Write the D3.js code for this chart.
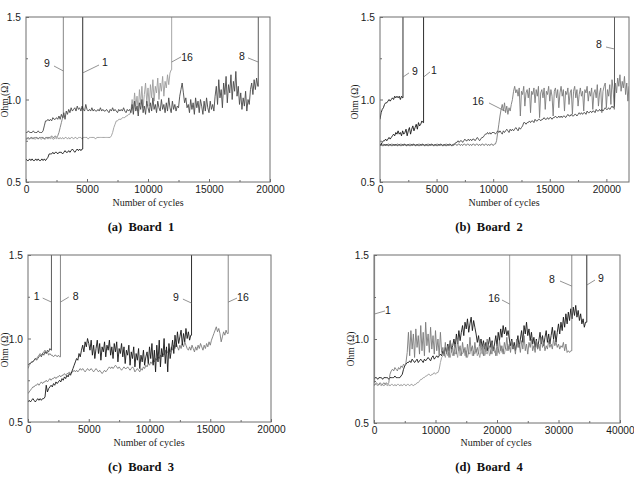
<!DOCTYPE html>
<html>
<head>
<meta charset="utf-8">
<script src="https://cdn.jsdelivr.net/npm/d3@7"></script>
<style>
  body { margin: 0; background: #fff; }
  svg { display: block; }
</style>
</head>
<body>
<script>
// resistance (ohm) read every `step` cycles; failure = jump to open circuit
const ohmTicks = [0.5, 1.0, 1.5];
const ohmMinor = [0.75, 1.25];
const cycleTicks20k = [0, 5000, 10000, 15000, 20000];
const cycleMinor20k = [2500, 7500, 12500, 17500];
const cycleTicks40k = [0, 10000, 20000, 30000, 40000];
const cycleMinor40k = [5000, 15000, 25000, 35000];
const captions = ["(a)  Board  1", "(b)  Board  2", "(c)  Board  3", "(d)  Board  4"];

// board 1, step 100
const b1s1 = [0.64,0.63,0.63,0.64,0.63,0.64,0.63,0.63,0.64,0.63,0.64,0.63,0.63,0.64,0.63,0.64,0.63,0.64,
  0.65,0.67,0.67,
  0.67,0.68,0.67,0.68,0.68,0.67,0.68,0.68,0.68,0.67,0.68,0.69,0.68,0.68,
  0.69,0.68,0.69,0.70,0.69,0.68,0.69,0.70,0.69,0.70,0.69,0.70];
const b1s9 = [0.76,0.76,0.77,0.76,0.77,0.77,0.76,0.77,0.77,0.77,0.76,0.77,0.77,0.77,0.77,0.76,0.77,0.77,0.77,0.77,
  0.77,0.78,0.77,0.77,0.78,0.77,0.78,0.80,0.83,0.86,0.89];
const b1s16 = [0.76,0.77,0.76,0.76,0.77,0.76,0.77,0.76,0.76,0.77,0.76,0.77,0.76,0.76,0.77,0.76,0.76,0.77,0.76,0.77,
  0.76,0.77,0.76,0.76,0.77,0.76,0.77,0.76,0.77,0.76,0.77,0.76,0.77,0.77,0.76,0.77,0.76,0.77,0.77,0.76,
  0.77,0.77,0.76,0.77,0.77,0.77,0.76,0.77,0.77,0.77,0.77,0.76,0.77,0.77,0.77,0.77,0.77,0.76,0.77,0.77,
  0.77,0.77,0.77,0.77,0.77,0.77,0.77,0.77,0.77,0.77,
  0.78,0.80,0.83,0.85,0.87,0.87,0.88,0.88,
  0.88,0.89,0.89,0.89,0.90,0.90,0.91,0.91,
  0.93,1.00,0.94,1.04,0.96,1.02,0.93,1.06,0.97,1.08,0.95,1.03,1.10,0.98,1.07,0.96,1.09,1.01,1.12,0.99,
  1.08,1.04,1.13,1.00,1.10,1.05,1.14,1.02,1.11,1.07,1.15,1.09,1.16,1.18];
const b1s8 = [0.80,0.80,0.81,0.80,0.80,0.80,0.81,0.80,0.80,0.80,0.81,0.80,0.80,0.80,0.81,
  0.84,0.87,
  0.87,0.88,0.87,0.88,0.87,0.89,0.88,0.88,0.89,0.88,0.90,0.88,0.91,0.89,
  0.92,0.88,0.93,0.91,0.94,0.92,0.95,0.93,0.94,0.95,0.93,0.96,0.94,0.95,0.93,0.96,
  0.94,0.93,0.97,0.94,0.93,0.94,0.93,0.95,0.93,0.94,0.93,0.93,0.94,0.93,0.95,0.93,0.94,0.93,0.93,0.94,
  0.93,0.92,0.94,0.93,0.95,0.93,0.94,0.93,0.92,0.94,0.93,0.94,0.93,0.95,0.93,0.92,0.94,0.93,0.94,
  0.92,0.97,0.91,0.99,0.93,0.96,0.90,0.98,0.94,1.00,0.92,0.96,0.91,0.99,0.95,0.92,0.98,0.93,1.01,0.94,
  0.97,0.92,0.99,0.95,0.93,1.00,0.94,0.97,0.92,0.98,0.93,1.01,0.95,0.92,0.99,0.94,0.97,0.93,0.96,
  0.95,1.02,1.06,1.10,1.04,0.98,1.01,0.95,
  0.97,0.92,1.00,0.94,0.98,0.91,1.01,0.95,0.99,0.92,1.00,0.96,0.91,0.99,0.93,1.01,0.95,0.92,0.99,0.94,0.97,0.93,
  1.02,1.08,0.97,1.12,1.01,1.06,0.95,1.10,1.03,1.14,0.98,1.09,1.04,1.15,1.00,1.11,1.05,1.17,1.02,1.08,
  0.97,1.04,0.94,1.01,0.96,1.05,0.93,1.00,0.97,1.06,1.10,1.03,1.12,1.06,1.13,1.08];
const b1Fail = { "1": 4650, "9": 3060, "16": 11940, "8": 19040 };

// board 2, step 100
const b2s9 = [0.88,0.92,0.94,0.95,0.97,0.98,0.98,0.99,1.00,0.99,1.00,1.01,1.00,1.02,1.01,1.02,1.01,1.02,1.00,1.02,1.01];
const b2s1 = [0.72,0.73,0.74,0.75,0.75,0.76,0.75,0.76,0.77,0.76,0.77,0.78,0.79,0.78,0.80,0.79,0.81,0.79,0.80,0.78,
  0.81,0.79,0.80,0.82,0.78,0.81,0.83,0.79,0.82,0.84,0.81,0.83,0.85,0.82,0.86,0.84,0.85,0.87,0.86];
const b2s16 = [0.73,0.72,0.73,0.73,0.72,0.73,0.72,0.73,0.73,0.72,0.73,0.73,0.72,0.73,0.72,0.73,0.73,0.72,0.73,0.73,
  0.72,0.73,0.73,0.72,0.73,0.72,0.73,0.73,0.72,0.73,0.73,0.72,0.73,0.72,0.73,0.73,0.72,0.73,0.73,0.72,
  0.73,0.72,0.73,0.73,0.72,0.73,0.73,0.72,0.73,0.72,0.73,0.73,0.72,0.73,0.73,0.72,0.73,0.72,0.73,0.73,
  0.72,0.73,0.73,0.72,0.73,0.72,0.73,0.73,0.72,0.73,0.73,0.72,0.73,0.72,0.73,0.73,0.72,0.73,0.73,0.72,
  0.73,0.72,0.73,0.73,0.72,0.73,0.73,0.72,0.73,0.72,0.73,0.73,0.72,0.73,0.73,0.72,0.73,0.72,0.73,0.73,
  0.72,0.73,0.73,
  0.75,0.80,0.85,0.90,0.94,0.97,0.93,0.98,
  0.92,0.96,0.91,0.95,0.93,0.97,1.00,1.05,1.08,1.04,
  1.06,1.02,1.07,0.90,1.05,1.03,1.08,0.96,1.04,1.06,
  1.01,1.07,0.92,1.05,1.03,1.07,0.98,1.06,1.02,1.08,
  0.89,1.04,1.06,1.01,1.07,0.94,1.05,1.03,1.08,0.99,
  1.06,1.02,0.90,1.05,1.07,1.01,1.06,0.95,1.04,1.08,
  1.02,1.06,0.93,1.05,1.03,1.07,0.97,1.04,1.06,0.91,
  1.05,1.08,1.01,1.06,0.96,1.03,1.07,1.02,1.05,0.93,
  1.06,1.04,1.08,0.99,1.05,1.02,1.07,0.94,1.04,1.06,
  1.01,1.09,0.96,1.04,1.07,0.92,1.05,1.08,1.10,0.95,
  1.06,1.02,1.09,0.97,1.12,1.06,0.94,1.10,1.04,1.13,
  1.08,1.15,1.05,1.11,1.07,1.14,1.03,1.10,0.99,1.08];
const b2s8 = [0.72,0.73,0.72,0.72,0.73,0.72,0.73,0.72,0.72,0.73,0.72,0.72,0.73,0.72,0.73,0.72,0.72,0.73,0.72,0.72,
  0.73,0.72,0.73,0.72,0.72,0.73,0.72,0.72,0.73,0.72,0.73,0.72,0.72,0.73,0.72,0.72,0.73,0.72,0.73,0.72,
  0.72,0.73,0.72,0.72,0.73,0.72,0.73,0.72,0.72,0.73,0.72,0.72,0.73,0.72,0.73,0.72,0.72,0.73,0.72,0.72,
  0.73,0.72,0.73,0.72,0.72,0.73,
  0.73,0.74,0.74,0.75,0.74,0.75,0.75,0.74,0.75,0.76,0.75,0.75,0.76,0.75,0.76,0.75,0.76,0.76,0.75,0.76,
  0.77,0.76,0.75,0.76,0.77,
  0.77,0.78,0.79,0.79,0.80,0.79,0.80,0.79,0.80,0.80,
  0.80,0.79,0.80,0.81,0.80,0.81,0.80,0.79,0.81,0.80,0.81,0.82,0.81,0.80,0.82,0.81,0.82,0.81,0.82,0.83,
  0.82,0.81,0.83,0.82,0.83,
  0.84,0.86,0.86,0.85,0.86,
  0.86,0.87,0.86,0.87,0.87,0.86,0.88,0.87,0.87,0.88,0.88,0.87,0.88,0.88,0.89,0.88,0.88,0.89,0.88,0.89,
  0.89,0.88,0.89,0.89,0.90,0.89,0.89,0.90,0.89,0.90,0.89,0.90,0.90,0.89,0.90,0.91,0.90,0.90,0.91,0.90,
  0.90,0.91,0.91,0.90,0.91,0.92,0.91,0.92,0.91,0.92,0.92,0.91,0.93,0.92,0.92,0.93,0.92,0.93,0.93,0.92,
  0.94,0.93,0.93,0.94,0.93,0.94,0.93,0.94,0.95,0.94,0.94,0.95,0.94,0.95,0.96,0.95,0.96];
const b2Fail = { "9": 2030, "1": 3850, "16": null, "8": 20720 };

// board 3, step 100
const b3s1 = [0.84,0.85,0.85,0.86,0.86,0.87,0.88,0.87,0.88,0.89,0.90,0.89,0.91,0.90,0.92,0.91,0.93,0.92,0.94,0.93];
const b3s8 = [0.82,0.84,0.85,0.86,0.86,0.87,0.88,0.88,0.89,0.90,0.91,0.90,0.91,0.92,0.93,0.91,0.92,0.90,0.91,0.90,
  0.90,0.89,0.90,0.90,0.89,0.90,0.89];
const b3s9 = [0.62,0.63,0.62,0.63,0.64,0.63,0.62,0.63,0.64,0.63,0.64,0.63,0.64,0.64,0.65,
  0.72,0.68,0.70,0.71,0.72,0.71,0.73,0.72,0.74,0.73,
  0.74,0.75,0.74,0.76,0.75,0.77,0.76,0.78,0.77,0.79,0.78,0.80,0.82,
  0.84,0.86,0.88,0.87,0.91,0.89,0.93,0.96,0.92,0.98,0.95,1.00,
  0.97,0.93,0.99,0.90,0.96,0.88,0.94,0.99,0.91,0.97,
  0.87,0.95,0.92,0.98,0.89,0.96,0.93,0.99,0.90,0.95,
  0.88,0.97,0.92,0.98,0.86,0.94,0.91,0.97,0.89,0.95,
  0.85,0.93,0.90,0.96,0.84,0.92,0.88,0.95,0.83,0.91,
  0.87,0.94,0.82,0.90,0.86,0.93,0.84,0.89,0.92,0.85,0.95,
  0.88,0.97,0.84,0.93,0.80,0.96,0.86,0.99,0.83,0.94,0.89,1.00,0.85,0.95,0.80,0.97,0.88,
  0.93,0.99,0.91,1.02,0.95,1.04,0.97,1.01,1.05,0.96,1.03,0.98,1.06,1.00,1.04,0.99,1.02];
const b3s16 = [0.67,0.68,0.69,0.70,0.71,0.71,0.72,0.72,0.73,0.72,0.73,0.74,0.73,0.74,0.74,0.75,0.74,0.75,0.76,0.75,
  0.76,0.76,0.77,0.76,0.77,0.77,0.78,0.77,0.78,0.78,0.79,
  0.78,0.79,0.79,0.80,0.79,0.80,0.80,0.81,0.80,0.81,0.80,0.81,0.82,0.81,0.82,0.81,0.80,0.81,0.82,0.81,
  0.81,0.82,0.81,0.80,0.81,0.82,0.81,0.80,0.81,0.80,0.79,0.80,0.81,0.80,0.81,0.82,0.83,0.82,0.83,0.82,
  0.83,0.84,0.83,0.82,0.83,0.82,0.81,0.82,0.83,0.82,
  0.82,0.83,0.82,0.81,0.82,0.83,0.82,0.80,0.81,0.82,0.81,0.80,0.82,0.81,0.83,0.82,0.84,0.83,0.85,0.84,
  0.86,0.85,0.87,0.86,0.88,0.87,0.89,0.88,0.90,0.89,
  0.91,0.90,0.93,0.91,0.92,0.94,0.92,0.95,0.93,0.96,0.94,0.97,0.95,0.93,0.96,0.94,0.97,0.95,0.98,0.96,
  0.94,0.93,0.95,0.93,0.96,0.94,0.92,0.95,0.93,0.96,
  0.94,0.97,0.95,0.93,0.96,0.94,0.97,0.95,0.98,0.96,0.99,1.01,1.03,1.05,1.07,1.04,1.06,1.03,0.98,1.01,
  1.04,1.02,1.05,1.03];
const b3Fail = { "1": 1930, "8": 2670, "9": 13460, "16": 16480 };

// board 4, step 200
const b4s1 = [0.74];
const b4s16 = [0.72,0.73,0.73,0.72,0.73,0.73,0.72,0.73,0.72,0.73,0.73,0.72,0.73,0.72,0.73,0.73,0.72,0.73,0.72,0.73,
  0.73,0.72,0.73,0.72,0.73,0.73,0.72,0.73,0.73,0.72,0.73,0.73,0.72,0.73,0.73,0.74,
  0.74,0.75,0.76,0.76,0.77,0.77,0.78,0.78,0.79,0.79,0.78,0.79,0.79,0.80,0.79,0.80,0.80,
  0.82,0.86,0.89,0.90,
  0.91,0.89,0.93,0.90,0.92,0.89,0.94,0.90,0.92,0.91,0.93,0.89,0.95,0.90,0.92,0.91,0.94,0.90,0.93,0.89,
  0.92,0.91,0.95,0.90,0.93,0.91,0.94,0.90,0.92,0.89,0.93,0.91,0.96,0.90,0.92,0.91,0.94,0.90,0.93,0.91,
  0.95,0.92,0.93,0.90,0.94,0.91,0.96,0.92,0.94,0.91,0.95,0.93,0.96,0.94];
const b4s8 = [0.73,0.73,0.74,0.73,0.73,0.74,0.73,0.73,0.74,0.73,0.74,0.73,0.74,
  0.79,0.81,0.82,0.81,0.83,0.82,0.81,0.83,0.82,0.84,0.83,0.85,0.84,0.86,
  0.92,1.04,0.90,1.05,0.94,1.03,0.89,1.06,0.95,1.02,0.91,1.08,0.93,1.04,0.90,1.10,0.96,1.03,0.92,1.07,
  0.94,1.02,0.91,1.05,0.93,1.00,0.90,1.04,0.92,
  0.95,0.90,0.98,0.91,0.96,0.89,0.99,0.92,0.95,0.90,0.97,0.91,1.00,0.93,0.96,0.90,0.98,0.92,0.95,0.89,
  0.97,0.91,1.01,0.93,0.96,0.90,0.98,0.92,0.95,0.91,0.99,0.93,0.96,0.90,0.97,0.92,1.00,0.94,0.96,0.91,
  0.98,0.93,0.95,0.90,0.97,
  0.92,0.99,0.93,0.96,0.91,0.98,0.94,1.01,0.93,0.97,0.92,0.99,0.94,0.96,0.91,1.00,0.95,0.97,0.92,0.99,
  0.94,1.02,0.93,0.97,0.91,0.98,0.95,1.00,0.93,0.96,0.92,0.99,0.94,0.97,0.93,1.01,0.95,0.98,0.93,0.96,
  0.94,0.99,0.95,0.97,0.94,1.00,0.96,0.98,0.95,0.97,
  0.94,0.96,0.95,0.98,0.93,0.97,0.92,0.93,0.92,0.93];
const b4s9 = [0.76,0.77,0.77,0.76,0.77,0.77,0.77,0.76,0.77,0.77,0.77,0.77,0.76,0.77,0.77,0.77,0.77,0.78,0.77,0.77,
  0.77,0.77,0.78,
  0.79,0.82,0.84,0.85,0.86,
  0.86,0.87,0.86,0.88,0.87,0.86,0.87,0.88,0.86,0.87,0.88,0.87,0.86,0.88,0.87,0.88,0.89,0.88,0.87,0.89,
  0.90,0.88,0.89,0.90,0.89,0.90,0.91,
  0.90,0.93,0.91,0.95,0.92,0.97,0.93,0.99,0.94,0.96,1.00,0.95,1.03,0.97,1.05,0.99,
  1.04,1.08,1.02,1.10,1.06,1.12,1.04,1.09,1.13,1.05,1.11,1.07,1.03,0.98,1.02,0.96,1.00,0.95,0.99,0.94,
  0.98,0.93,0.97,1.01,0.95,0.99,0.93,0.97,1.02,0.96,1.04,0.99,1.06,1.01,1.08,1.03,1.07,1.02,1.05,1.00,
  0.96,1.00,0.94,0.98,0.93,0.97,1.02,0.95,1.00,1.05,0.98,1.08,1.03,1.10,1.02,1.06,0.99,1.04,0.97,1.01,
  0.95,1.00,0.94,0.99,1.04,0.97,1.02,0.96,1.01,1.05,0.98,1.03,0.97,1.02,1.07,1.00,1.05,0.98,1.04,1.09,
  1.03,1.10,1.05,1.13,1.07,1.15,1.09,1.16,1.11,1.18,1.12,1.19,1.14,1.20,1.13,1.17,1.11,1.15,1.09,1.12,
  1.07,1.10];
const b4Fail = { "1": 100, "16": 22060, "8": 32160, "9": 34600 };

// sensor callouts: [name, textCycle, textOhm, fromCycle, fromOhm, toCycle, toOhm]
const b1Notes = [["9", 1720, 1.221, 2295, 1.203, 3060, 1.173], ["1", 6475, 1.227, 4650, 1.161, 5984, 1.209],
  ["16", 13197, 1.258, 11940, 1.227, 12705, 1.258], ["8", 17705, 1.264, 18197, 1.252, 19040, 1.227]];
const b2Notes = [["9", 3092, 1.173, 2030, 1.136, 2562, 1.161], ["1", 4771, 1.179, 3850, 1.136, 4418, 1.167],
  ["16", 8658, 0.991, 9630, 0.979, 11044, 0.930], ["8", 19349, 1.336, 19967, 1.318, 20720, 1.306]];
const b3Notes = [["1", 717, 1.254, 1211, 1.242, 1930, 1.218], ["8", 3930, 1.254, 2670, 1.218, 3354, 1.248],
  ["9", 12170, 1.248, 12750, 1.236, 13460, 1.212], ["16", 17690, 1.248, 16480, 1.218, 17200, 1.242]];
const b4Notes = [["1", 2276, 1.173, 100, 1.149, 1789, 1.167], ["16", 19512, 1.244, 20813, 1.232, 22060, 1.208],
  ["8", 28943, 1.357, 30244, 1.345, 32160, 1.315], ["9", 36910, 1.363, 34600, 1.321, 35935, 1.351]];

const W = 634, H = 479;
const black = "#161616", dark = "#4a4a4a", mid = "#7a7a7a", light = "#9c9c9c";

const panels = [
  { box: [26, 270, 17, 182], xMax: 20000, step: 100, ticks: cycleTicks20k, minor: cycleMinor20k,
    series: [[b1s16, "16", light], [b1s9, "9", mid], [b1s8, "8", dark], [b1s1, "1", black]],
    fail: b1Fail, notes: b1Notes, ohmLabel: [7.5, 100], xLabel: [148, 206], cap: [141, 231] },
  { box: [380, 629, 17, 182], xMax: 22000, step: 100, ticks: cycleTicks20k, minor: cycleMinor20k,
    series: [[b2s16, "16", mid], [b2s8, "8", dark], [b2s1, "1", black], [b2s9, "9", black]],
    fail: b2Fail, notes: b2Notes, ohmLabel: [358, 102], xLabel: [504, 206], cap: [489, 231] },
  { box: [28, 271, 255, 422], xMax: 20000, step: 100, ticks: cycleTicks20k, minor: cycleMinor20k,
    series: [[b3s16, "16", mid], [b3s8, "8", mid], [b3s1, "1", dark], [b3s9, "9", black]],
    fail: b3Fail, notes: b3Notes, ohmLabel: [7.5, 350], xLabel: [149, 446], cap: [141, 471] },
  { box: [374, 620, 255, 423], xMax: 40000, step: 200, ticks: cycleTicks40k, minor: cycleMinor40k,
    series: [[b4s16, "16", light], [b4s9, "9", black], [b4s8, "8", mid], [b4s1, "1", mid]],
    fail: b4Fail, notes: b4Notes, ohmLabel: [354, 349], xLabel: [496, 446], cap: [489, 471] }
];

const svg = d3.select("body").append("svg").attr("width", W).attr("height", H);

const sans = "'Liberation Sans', Arial, sans-serif";
const serif = "'Liberation Serif', 'Times New Roman', serif";

panels.forEach((p, k) => {
  const [left, right, top, bottom] = p.box;
  const x = d3.scaleLinear().domain([0, p.xMax]).range([left, right]);
  const y = d3.scaleLinear().domain([0.5, 1.5]).range([bottom, top]);
  const g = svg.append("g");

  g.append("clipPath").attr("id", "clip" + k)
    .append("rect").attr("x", left).attr("y", top).attr("width", right - left).attr("height", bottom - top);

  const line = d3.line().x(d => x(d[0])).y(d => y(d[1]));
  p.series.forEach(([vals, name, color]) => {
    const pts = vals.map((v, i) => [i * p.step, v]);
    const f = p.fail[name];
    if (f != null) {
      pts.push([f, vals[vals.length - 1]]);
      pts.push([f, 1.5]);
    }
    g.append("path")
      .datum(pts)
      .attr("clip-path", `url(#clip${k})`)
      .attr("fill", "none")
      .attr("stroke", color)
      .attr("stroke-width", 0.9)
      .attr("stroke-linejoin", "round")
      .attr("d", line);
  });

  // frame
  g.append("rect")
    .attr("x", left).attr("y", top)
    .attr("width", right - left).attr("height", bottom - top)
    .attr("fill", "none").attr("stroke", "#6e6e6e").attr("stroke-width", 1);

  // axes (ticks inside)
  const xAxis = g.append("g").attr("transform", `translate(0,${bottom})`)
    .call(d3.axisBottom(x).tickValues(p.ticks).tickFormat(d3.format("d")).tickSize(-3).tickPadding(4));
  g.append("g").attr("transform", `translate(0,${bottom})`)
    .call(d3.axisBottom(x).tickValues(p.minor).tickSize(-2).tickFormat(""));
  const yAxis = g.append("g").attr("transform", `translate(${left},0)`)
    .call(d3.axisLeft(y).tickValues(ohmTicks).tickFormat(d3.format(".1f")).tickSize(-3).tickPadding(5));
  g.append("g").attr("transform", `translate(${left},0)`)
    .call(d3.axisLeft(y).tickValues(ohmMinor).tickSize(-2).tickFormat(""));
  g.selectAll(".domain").remove();
  g.selectAll(".tick line").attr("stroke", "#6e6e6e");
  [xAxis, yAxis].forEach(a => a.selectAll("text")
    .attr("font-family", sans).attr("font-size", 10.2).attr("fill", "#1a1a1a"));
  yAxis.selectAll("text").attr("dy", "0.35em");

  // sensor callouts
  p.notes.forEach(([name, tx, ty, x1, y1, x2, y2]) => {
    g.append("line")
      .attr("x1", x(x1)).attr("y1", y(y1)).attr("x2", x(x2)).attr("y2", y(y2))
      .attr("stroke", "#777").attr("stroke-width", 0.8);
    g.append("text")
      .attr("x", x(tx)).attr("y", y(ty))
      .attr("dy", "0.35em")
      .attr("text-anchor", "middle")
      .attr("font-family", sans).attr("font-size", 10.5).attr("fill", "#1a1a1a")
      .text(name);
  });

  // titles
  g.append("text")
    .attr("transform", `translate(${p.ohmLabel[0]},${p.ohmLabel[1]}) rotate(-90)`)
    .attr("text-anchor", "middle")
    .attr("font-family", serif).attr("font-size", 9.5).attr("fill", "#1a1a1a")
    .text("Ohm (Ω)");
  g.append("text")
    .attr("x", p.xLabel[0]).attr("y", p.xLabel[1])
    .attr("text-anchor", "middle")
    .attr("font-family", serif).attr("font-size", 10).attr("fill", "#1a1a1a")
    .text("Number of cycles");
  g.append("text")
    .attr("x", p.cap[0]).attr("y", p.cap[1])
    .attr("text-anchor", "middle")
    .attr("xml:space", "preserve")
    .style("white-space", "pre")
    .attr("font-family", serif).attr("font-size", 12.5).attr("font-weight", "bold").attr("fill", "#111")
    .text(captions[k]);
});
</script>
</body>
</html>
